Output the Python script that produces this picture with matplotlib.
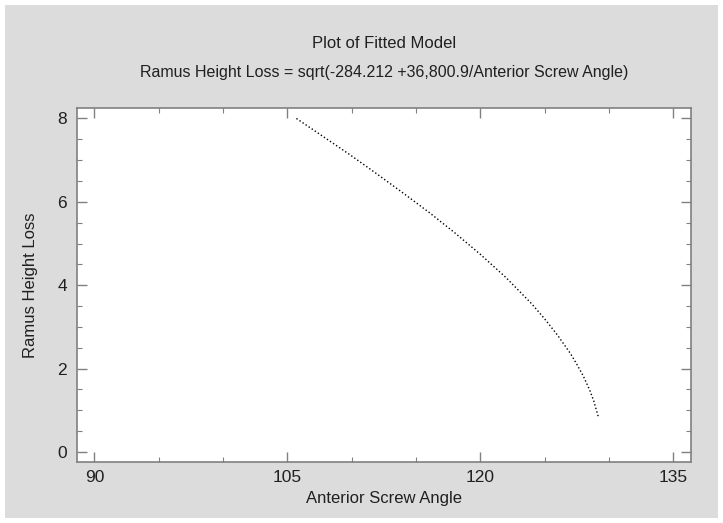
import matplotlib
matplotlib.use("Agg")
import matplotlib.pyplot as plt
from matplotlib.patches import Rectangle
from matplotlib.ticker import MultipleLocator

# values
angle = [105.7, 107, 108, 110, 112, 114, 116, 118, 120, 122, 124, 125, 126,
         127, 127.5, 128, 128.5, 128.8, 129.15]
height_loss = [8.00, 7.73, 7.52, 7.10, 6.66, 6.21, 5.75, 5.26, 4.74, 4.18,
               3.55, 3.19, 2.80, 2.36, 2.10, 1.82, 1.48, 1.23, 0.86]

x_ticks = [90, 105, 120, 135]
y_ticks = [0, 2, 4, 6, 8]

title1 = "Plot of Fitted Model"
title2 = "Ramus Height Loss = sqrt(-284.212 +36,800.9/Anterior Screw Angle)"

plt.rcParams['font.family'] = ['Liberation Sans', 'DejaVu Sans']

fig = plt.figure(figsize=(7.23, 5.23), dpi=100)
fig.patch.set_facecolor('white')
bg = Rectangle((5 / 723, 5 / 523), 713 / 723, 513 / 523, transform=fig.transFigure,
               facecolor='#dcdcdc', edgecolor='none', zorder=-10)
fig.patches.append(bg)

ax = fig.add_axes([0.106, 0.1166, 0.850, 0.676])
ax.set_facecolor('white')
ax.plot(angle, height_loss, color='black', linestyle=':', linewidth=1.0)

ax.set_xlim(88.62, 136.38)
ax.set_ylim(-0.24, 8.24)
ax.set_xticks(x_ticks)
ax.set_yticks(y_ticks)
ax.xaxis.set_minor_locator(MultipleLocator(5))
ax.yaxis.set_minor_locator(MultipleLocator(0.5))

for s in ax.spines.values():
    s.set_color('#808080')
    s.set_linewidth(1.2)

ax.tick_params(which='both', direction='in', top=True, right=True,
               color='#808080', labelsize=12.5, labelcolor='#202020')
ax.tick_params(which='major', length=7, width=1)
ax.tick_params(which='minor', length=3.5, width=0.8)
ax.tick_params(axis='x', pad=6)
ax.tick_params(axis='y', pad=7)

ax.set_xlabel("Anterior Screw Angle", fontsize=12, color='#202020', labelpad=4)
ax.set_ylabel("Ramus Height Loss", fontsize=12, color='#202020', labelpad=14)

cx = 384 / 723
fig.text(cx, 1 - 43 / 523, title1, ha='center', va='center', fontsize=12, color='#202020')
fig.text(cx, 1 - 72 / 523, title2, ha='center', va='center', fontsize=11.5,
         color='#202020')

fig.savefig("out.png", dpi=100)
